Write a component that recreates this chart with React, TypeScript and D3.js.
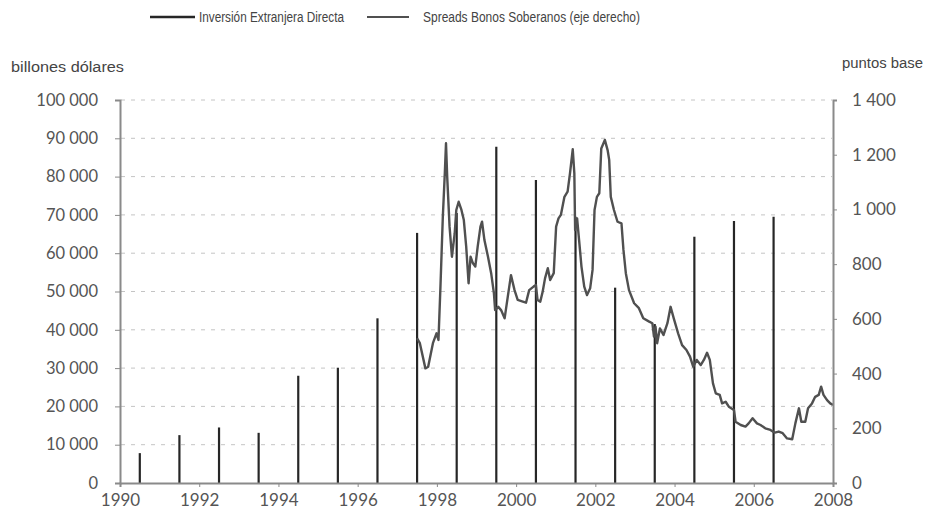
import * as d3 from "d3";
import { useEffect, useRef } from "react";

// Inversión Extranjera Directa (billones dólares), one bar per year
const fdiYears = [1990, 1991, 1992, 1993, 1994, 1995, 1996, 1997, 1998, 1999, 2000, 2001, 2002, 2003, 2004, 2005, 2006];
const fdiValues = [7800, 12500, 14500, 13100, 28000, 30100, 43000, 65300, 70500, 87800, 79100, 69500, 51000, 41500, 64300, 68400, 69500];

// Spreads Bonos Soberanos (puntos base), decimal years
const spreadDates = [
  1997.5, 1997.57, 1997.71, 1997.78, 1997.9, 1997.99, 1998.04, 1998.09, 1998.15, 1998.2, 1998.23, 1998.26, 1998.32,
  1998.38, 1998.45, 1998.49, 1998.55, 1998.62, 1998.68, 1998.74, 1998.8, 1998.85, 1998.91, 1998.97, 1999.03, 1999.1,
  1999.14, 1999.2, 1999.29, 1999.37, 1999.44, 1999.47, 1999.55, 1999.62, 1999.71, 1999.79, 1999.87, 1999.96, 2000.04,
  2000.17, 2000.25, 2000.33, 2000.44, 2000.5, 2000.54, 2000.61, 2000.67, 2000.73, 2000.8, 2000.86, 2000.95, 2001.01,
  2001.07, 2001.13, 2001.22, 2001.3, 2001.36, 2001.43, 2001.47, 2001.49, 2001.54, 2001.59, 2001.65, 2001.72, 2001.79,
  2001.87, 2001.93, 2001.98, 2002.04, 2002.1, 2002.15, 2002.24, 2002.31, 2002.35, 2002.39, 2002.47, 2002.56, 2002.66,
  2002.71, 2002.77, 2002.85, 2002.98, 2003.1, 2003.21, 2003.36, 2003.44, 2003.48, 2003.52, 2003.56, 2003.63, 2003.72,
  2003.82, 2003.9, 2003.98, 2004.09, 2004.19, 2004.3, 2004.39, 2004.47, 2004.56, 2004.66, 2004.74, 2004.82, 2004.89,
  2004.97, 2005.04, 2005.14, 2005.2, 2005.29, 2005.37, 2005.5, 2005.54, 2005.67, 2005.79, 2005.87, 2005.97, 2006.08,
  2006.17, 2006.29, 2006.42, 2006.53, 2006.63, 2006.73, 2006.84, 2006.97, 2007.05, 2007.14, 2007.2, 2007.3, 2007.37,
  2007.47, 2007.55, 2007.64, 2007.7, 2007.76, 2007.85, 2007.93, 2008.0,
];
const spreadValues = [
  529, 511, 419, 425, 511, 547, 523, 718, 973, 1132, 1242, 1120, 937,
  827, 913, 998, 1028, 998, 961, 864, 730, 827, 803, 791, 864, 937,
  955, 888, 827, 767, 693, 632, 644, 632, 602, 681, 760, 705, 669,
  663, 659, 705, 718, 724, 669, 663, 699, 748, 785, 742, 767, 937,
  967, 980, 1046, 1065, 1132, 1220, 1132, 925, 967, 888, 791, 718, 687,
  712, 779, 998, 1046, 1059, 1223, 1254, 1217, 1181, 1046, 998, 955, 949,
  852, 767, 705, 657, 639, 602, 590, 584, 535, 571, 511, 565, 541,
  584, 644, 602, 547, 504, 486, 462, 425, 450, 431, 450, 476, 450,
  364, 328, 322, 291, 297, 279, 267, 224, 212, 206, 218, 237, 218,
  212, 200, 194, 184, 188, 182, 163, 160, 218, 273, 224, 224, 273,
  291, 315, 322, 352, 322, 303, 291, 285,
];

const leftTicks = [0, 10000, 20000, 30000, 40000, 50000, 60000, 70000, 80000, 90000, 100000];
const rightTicks = [0, 200, 400, 600, 800, 1000, 1200, 1400];
const yearTicks = [1990, 1992, 1994, 1996, 1998, 2000, 2002, 2004, 2006, 2008];

const fmt = (v: number) => d3.format(",")(v).replace(/,/g, " ");

export default function App() {
  const ref = useRef<SVGSVGElement>(null);

  useEffect(() => {
    if (!ref.current) return;
    const svg = d3.select(ref.current);
    svg.selectAll("*").remove();

    const x = d3.scaleLinear().domain([1990, 2008]).range([120, 833]);
    const yL = d3.scaleLinear().domain([0, 100000]).range([483, 100]);
    const yR = d3.scaleLinear().domain([0, 1400]).range([483, 100]);
    const font = "Lato, 'Open Sans', sans-serif";
    const narrow = "'Liberation Sans Narrow', 'Liberation Sans', Arial, sans-serif";

    // grid lines
    svg
      .append("g")
      .selectAll("line")
      .data(leftTicks.slice(1))
      .enter()
      .append("line")
      .attr("x1", 121)
      .attr("x2", 832)
      .attr("y1", (d) => yL(d))
      .attr("y2", (d) => yL(d))
      .attr("stroke", "#c4c4c4")
      .attr("stroke-width", 1)
      .attr("stroke-dasharray", "4,6");

    // FDI bars
    svg
      .append("g")
      .selectAll("line")
      .data(fdiYears.map((yr, i) => ({ yr, v: fdiValues[i] })))
      .enter()
      .append("line")
      .attr("x1", (d) => x(d.yr + 0.5))
      .attr("x2", (d) => x(d.yr + 0.5))
      .attr("y1", yL(0))
      .attr("y2", (d) => yL(d.v))
      .attr("stroke", "#262626")
      .attr("stroke-width", 2.2);

    // spread line
    const line = d3
      .line<number>()
      .x((_, i) => x(spreadDates[i]))
      .y((d) => yR(d));
    svg
      .append("path")
      .datum(spreadValues)
      .attr("d", line)
      .attr("fill", "none")
      .attr("stroke", "#505050")
      .attr("stroke-width", 2.4)
      .attr("stroke-linejoin", "round");

    // left axis
    const left = svg
      .append("g")
      .attr("transform", "translate(120,0)")
      .call(d3.axisLeft(yL).tickValues(leftTicks).tickSize(5).tickPadding(17).tickFormat((d) => fmt(+d)));
    left.select(".domain").attr("stroke", "#8a8a8a").attr("stroke-width", 2);
    left.selectAll(".tick line").attr("stroke", "#8a8a8a");
    left.selectAll("text").attr("fill", "#555").attr("font-size", 16.5).attr("font-family", font);

    // right axis
    const right = svg
      .append("g")
      .attr("transform", "translate(833,0)")
      .call(d3.axisRight(yR).tickValues(rightTicks).tickSize(4).tickPadding(15).tickFormat((d) => fmt(+d)));
    right.select(".domain").attr("stroke", "#8a8a8a").attr("stroke-width", 2);
    right.selectAll(".tick line").attr("stroke", "#8a8a8a");
    right.selectAll("text").attr("fill", "#555").attr("font-size", 17).attr("font-family", font);

    // bottom axis
    const bottom = svg
      .append("g")
      .attr("transform", "translate(0,483)")
      .call(d3.axisBottom(x).tickValues(yearTicks).tickSize(4).tickPadding(7).tickFormat((d) => String(d)));
    bottom.select(".domain").attr("stroke", "#8a8a8a").attr("stroke-width", 2);
    bottom.selectAll(".tick line").attr("stroke", "#8a8a8a");
    bottom.selectAll("text").attr("fill", "#555").attr("font-size", 17).attr("font-family", font);

    // axis titles
    svg
      .append("text")
      .attr("x", 11)
      .attr("y", 72)
      .attr("font-family", narrow)
      .attr("font-size", 14)
      .attr("textLength", 113)
      .attr("lengthAdjust", "spacingAndGlyphs")
      .attr("fill", "#444")
      .text("billones dólares");
    svg
      .append("text")
      .attr("x", 842)
      .attr("y", 68)
      .attr("font-family", narrow)
      .attr("font-size", 14)
      .attr("textLength", 81)
      .attr("lengthAdjust", "spacingAndGlyphs")
      .attr("fill", "#444")
      .text("puntos base");

    // legend
    const legend = svg.append("g");
    legend
      .append("line")
      .attr("x1", 150)
      .attr("x2", 195)
      .attr("y1", 17)
      .attr("y2", 17)
      .attr("stroke", "#262626")
      .attr("stroke-width", 2.4);
    legend
      .append("text")
      .attr("x", 199)
      .attr("y", 22)
      .attr("font-family", narrow)
      .attr("font-size", 14)
      .attr("textLength", 145)
      .attr("lengthAdjust", "spacingAndGlyphs")
      .attr("fill", "#444")
      .text("Inversión Extranjera Directa");
    legend
      .append("line")
      .attr("x1", 367)
      .attr("x2", 409)
      .attr("y1", 17)
      .attr("y2", 17)
      .attr("stroke", "#505050")
      .attr("stroke-width", 1.8);
    legend
      .append("text")
      .attr("x", 423)
      .attr("y", 22)
      .attr("font-family", narrow)
      .attr("font-size", 14)
      .attr("textLength", 217)
      .attr("lengthAdjust", "spacingAndGlyphs")
      .attr("fill", "#444")
      .text("Spreads Bonos Soberanos (eje derecho)");
  }, []);

  return (
    <div style={{ position: "absolute", left: 0, top: 0 }}>
      <svg ref={ref} width={927} height={522} style={{ display: "block", background: "#fff" }} />
    </div>
  );
}
